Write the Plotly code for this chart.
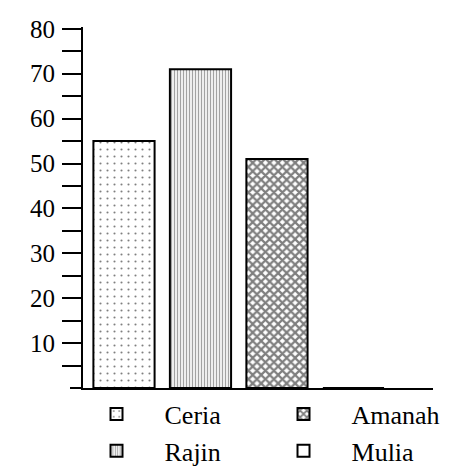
import plotly.graph_objects as go

categories = ["Ceria", "Rajin", "Amanah", "Mulia"]
values = [55, 71, 51, 0]
legend_ranks = [1, 3, 2, 4]
tick_vals = [5, 10, 15, 20, 25, 30, 35, 40, 45, 50, 55, 60, 65, 70, 75, 80]
tick_text = ["", "10", "", "20", "", "30", "", "40", "", "50", "", "60", "", "70", "", "80"]

patterns = {
    "Ceria": dict(shape=".", fgcolor="black", bgcolor="white", size=7, solidity=0.07, fillmode="overlay"),
    "Rajin": dict(shape="|", fgcolor="#555", bgcolor="#eeeeee", size=3, solidity=0.35, fillmode="overlay"),
    "Amanah": dict(shape="x", fgcolor="black", bgcolor="white", size=6, solidity=0.6, fillmode="overlay"),
    "Mulia": dict(shape="", fgcolor="black", bgcolor="white"),
}

fig = go.Figure()
for cat, val, rank in zip(categories, values, legend_ranks):
    fig.add_trace(go.Bar(
        x=[cat], y=[val], name=cat, width=0.8, legendrank=rank,
        marker=dict(color="white", line=dict(color="black", width=2), pattern=patterns[cat]),
    ))

serif = "Liberation Serif"
fig.update_layout(
    width=465, height=470,
    margin=dict(l=75, r=40, t=19, b=90, autoexpand=False),
    paper_bgcolor="white", plot_bgcolor="white",
    barmode="overlay",
    showlegend=True,
    font=dict(family=serif, color="black"),
    legend=dict(
        orientation="h", x=-0.0414, y=-0.007, xanchor="left", yanchor="top",
        entrywidth=86, entrywidthmode="pixels", itemwidth=86,
        font=dict(family=serif, size=26, color="black"),
        bgcolor="rgba(0,0,0,0)", itemclick=False,
    ),
    xaxis=dict(
        type="category", categoryorder="array", categoryarray=categories,
        range=[-0.536, 4.04], showticklabels=False, ticks="",
        showline=True, linecolor="black", linewidth=2, showgrid=False, zeroline=False,
    ),
    yaxis=dict(
        range=[0, 80.4], tickvals=tick_vals, ticktext=tick_text,
        ticks="outside", ticklen=19, tickwidth=2, tickcolor="black",
        showline=True, linecolor="black", linewidth=2, showgrid=False, zeroline=False,
        tickfont=dict(family=serif, size=25, color="black"), ticklabelstandoff=2,
    ),
    shapes=[dict(type="line", xref="paper", yref="paper", x0=-13/350, x1=0, y0=0, y1=0,
                 line=dict(color="black", width=2))],
)

fig.write_html("out.html")
